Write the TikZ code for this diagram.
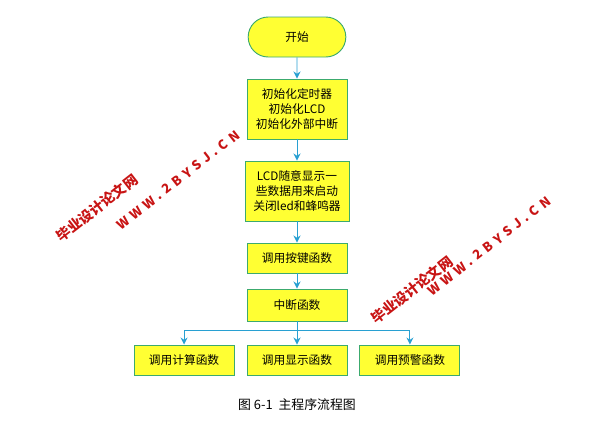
\documentclass[tikz,border=0pt]{standalone}
\usepackage{fontspec}
\setmainfont{Noto Sans CJK SC}
\usetikzlibrary{positioning,arrows.meta,shapes.misc}
\definecolor{boxfill}{RGB}{255,255,51}
\definecolor{boxline}{RGB}{60,170,110}
\definecolor{arrline}{RGB}{40,160,210}
\definecolor{markred}{RGB}{200,20,20}
\tikzstyle{stepbox} = [rectangle, draw=boxline, fill=boxfill, thick, minimum width=100*0.03cm,
                       align=center, font=\fontsize{10}{12.5}\selectfont, inner sep=1pt]
\tikzstyle{arrow}   = [draw=arrline, thick, -{Stealth[length=6pt,width=6pt]}]
\tikzstyle{wmark}   = [text=markred, font=\bfseries\fontsize{12}{12}\selectfont, rotate=38, inner sep=0pt]
\tikzstyle{wlink}   = [wmark, font=\bfseries\fontsize{11}{12}\selectfont\addfontfeature{LetterSpace=35}]

\begin{document}
\begin{tikzpicture}[x=0.03cm,y=-0.03cm]
		\useasboundingbox (0,0) rectangle (610,437);
		\node[stepbox, rounded rectangle, minimum height=40*0.03cm] (start) at (297,37) {开始};
		\node[stepbox, minimum height=60*0.03cm] (init) at (297,109) {初始化定时器\\初始化LCD\\初始化外部中断};
		\node[stepbox, minimum width=104*0.03cm, minimum height=60*0.03cm] (lcd) at (297,191) {LCD随意显示一\\些数据用来启动\\关闭led和蜂鸣器};
		\node[stepbox, minimum height=30*0.03cm] (key) at (297,258) {调用按键函数};
		\node[stepbox, minimum height=32*0.03cm] (intr) at (297,305) {中断函数};
		\node[stepbox, minimum height=30*0.03cm] (show) at (297,360) {调用显示函数};
		\node[stepbox, minimum height=30*0.03cm, left=12*0.03cm of show] (calc) {调用计算函数};
		\node[stepbox, minimum height=30*0.03cm, right=12*0.03cm of show] (warn) {调用预警函数};
		\coordinate (fork) at (297,330);

		\draw[arrow] (start) -- (init);
		\draw[arrow] (init) -- (lcd);
		\draw[arrow] (lcd) -- (key);
		\draw[arrow] (key) -- (intr);
		\draw[arrow] (intr) -- (show);
		\draw[arrow] (fork) -| (calc);
		\draw[arrow] (fork) -| (warn);

		% watermarks
		\node[wmark] (cn1) at (97,208) {毕业设计论文网};
		\node[wlink] (www1) at (178,180) {WWW.2BYSJ.CN};
		\node[wmark] (cn2) at (412,290) {毕业设计论文网};
		\node[wlink] (www2) at (489,246) {WWW.2BYSJ.CN};

		\node[font=\fontsize{11}{13}\selectfont] (cap) at (297,405) {图 6-1\ \ 主程序流程图};
	\end{tikzpicture}
\end{document}
